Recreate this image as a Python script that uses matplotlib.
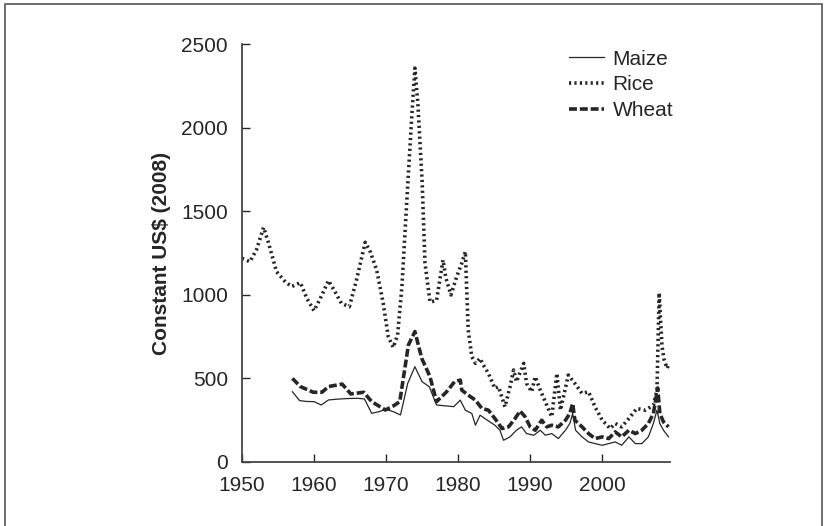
import matplotlib.pyplot as plt
from matplotlib.patches import Rectangle

plt.rcParams['font.family'] = ['Liberation Sans', 'DejaVu Sans']

# Rice, constant 2008 US$ per tonne
rice_years = [1950.0, 1951.1, 1952.0, 1953.0, 1953.7, 1954.8, 1956.0, 1956.9, 1958.1, 1959.0,
              1960.0, 1961.1, 1962.0, 1962.9, 1963.8, 1964.9, 1965.9, 1967.1, 1967.8, 1968.7,
              1969.6, 1970.3, 1971.0, 1971.6, 1972.2, 1972.9, 1973.6, 1974.0, 1974.4, 1975.0,
              1975.4, 1976.1, 1977.0, 1977.9, 1978.3, 1979.0, 1979.8, 1980.5, 1981.0, 1981.4,
              1981.9, 1982.4, 1983.05, 1983.5, 1984.2, 1985.1, 1985.6, 1986.5, 1987.2, 1987.7,
              1988.1, 1989.1, 1989.5, 1990.2, 1990.7, 1991.4, 1992.8, 1993.0, 1993.7, 1994.2,
              1995.3, 1996.2, 1997.2, 1998.1, 1999.0, 2000.0, 2001.1, 2001.8, 2002.7, 2003.7,
              2004.8, 2006.0, 2007.1, 2007.6, 2007.9, 2008.3, 2008.6, 2009.0, 2009.3]
rice = [1218, 1198, 1268, 1403, 1308, 1138, 1078, 1049, 1073, 979,
        905, 999, 1085, 1019, 949, 929, 1089, 1314, 1258, 1148,
        949, 750, 685, 760, 1050, 1580, 2090, 2356, 2150, 1680,
        1190, 957, 965, 1208, 1100, 999, 1108, 1188, 1258, 790,
        630, 590, 620, 580, 530, 440, 450, 330, 450, 550,
        480, 590, 470, 420, 510, 430, 290, 270, 530, 310,
        520, 470, 410, 420, 330, 250, 200, 230, 210, 260,
        320, 310, 340, 430, 1011, 690, 610, 560, 590]

maize_years = [1957.0, 1958.0, 1959.0, 1960.0, 1961.0, 1962.0, 1963.0, 1964.0, 1965.0, 1966.0,
               1967.0, 1968.0, 1969.0, 1970.0, 1971.0, 1972.0, 1973.0, 1974.0, 1975.0, 1976.0,
               1977.0, 1978.4, 1979.4, 1980.3, 1981.0, 1981.9, 1982.4, 1983.05, 1983.7, 1984.4,
               1985.1, 1985.8, 1986.3, 1987.2, 1988.1, 1988.8, 1989.5, 1990.5, 1991.4, 1992.1,
               1993.0, 1993.9, 1994.9, 1995.5, 1995.9, 1996.3, 1997.2, 1998.1, 1999.0, 2000.0,
               2000.9, 2001.8, 2002.7, 2003.7, 2004.6, 2005.5, 2006.4, 2007.1, 2007.6, 2008.0,
               2008.5, 2009.2]
maize = [420, 367, 362, 361, 341, 371, 375, 378, 380, 381,
         377, 291, 301, 315, 301, 281, 470, 570, 480, 450,
         341, 335, 331, 370, 310, 290, 220, 280, 260, 240,
         220, 190, 130, 150, 190, 210, 170, 160, 190, 160,
         170, 140, 190, 230, 290, 190, 150, 120, 110, 100,
         110, 120, 100, 150, 110, 110, 150, 230, 310, 230,
         190, 150]

wheat_years = [1957.0, 1958.1, 1959.9, 1961.1, 1962.0, 1963.9, 1965.1, 1966.9, 1968.0, 1969.9,
               1971.0, 1971.9, 1973.1, 1974.0, 1974.95, 1976.1, 1977.0, 1978.4, 1979.5, 1980.3,
               1980.5, 1981.4, 1982.4, 1983.3, 1984.2, 1985.1, 1986.1, 1987.0, 1987.9, 1988.6,
               1989.3, 1990.0, 1990.7, 1991.6, 1992.3, 1993.0, 1993.9, 1994.9, 1995.5, 1995.9,
               1996.2, 1997.2, 1998.1, 1999.0, 2000.0, 2000.9, 2001.8, 2002.7, 2003.7, 2004.6,
               2005.5, 2006.4, 2007.1, 2007.7, 2008.0, 2008.5, 2009.2]
wheat = [500, 451, 417, 417, 451, 466, 407, 417, 361, 311,
         335, 361, 700, 780, 620, 510, 361, 420, 480, 490,
         430, 400, 370, 320, 310, 260, 200, 210, 260, 305,
         270, 210, 190, 250, 210, 220, 210, 250, 290, 350,
         250, 210, 170, 140, 150, 140, 180, 150, 190, 170,
         190, 230, 290, 443, 290, 240, 210]

fig = plt.figure(figsize=(8.27, 5.26), dpi=100)
ax = fig.add_axes([0.2926, 0.1217, 0.5175, 0.7946])

ink = '#262626'
ax.plot(maize_years, maize, color=ink, lw=0.9, label='Maize')
ax.plot(rice_years, rice, color=ink, lw=2.6, linestyle=(0, (0.6, 0.9)), label='Rice')
ax.plot(wheat_years, wheat, color=ink, lw=2.6, linestyle=(0, (2.2, 0.8)), label='Wheat')

ax.set_xlim(1950, 2009.4)
ax.set_ylim(0, 2500)
ax.set_xticks([1950, 1960, 1970, 1980, 1990, 2000])
ax.set_yticks([0, 500, 1000, 1500, 2000, 2500])
ax.tick_params(direction='in', length=6, width=1, colors=ink, labelsize=15, pad=10)
for s in ['top', 'right']:
    ax.spines[s].set_visible(False)
for s in ['left', 'bottom']:
    ax.spines[s].set_color('#444444')
    ax.spines[s].set_linewidth(1.3)

ax.set_ylabel('Constant US$ (2008)', fontsize=15, fontweight='bold', labelpad=7, color=ink)

ax.legend(loc='upper left', bbox_to_anchor=(550 / 827, 1 - 31 / 526), bbox_transform=fig.transFigure,
          frameon=False, fontsize=15, handlelength=1.7, handletextpad=0.4, labelspacing=0.32,
          labelcolor=ink)

fig.patches.append(Rectangle((5 / 827, -0.05), 817 / 827, 1.05 - 4 / 526, transform=fig.transFigure,
                             fill=False, edgecolor='#555555', lw=1.2))

fig.savefig('out.png', dpi=100)
